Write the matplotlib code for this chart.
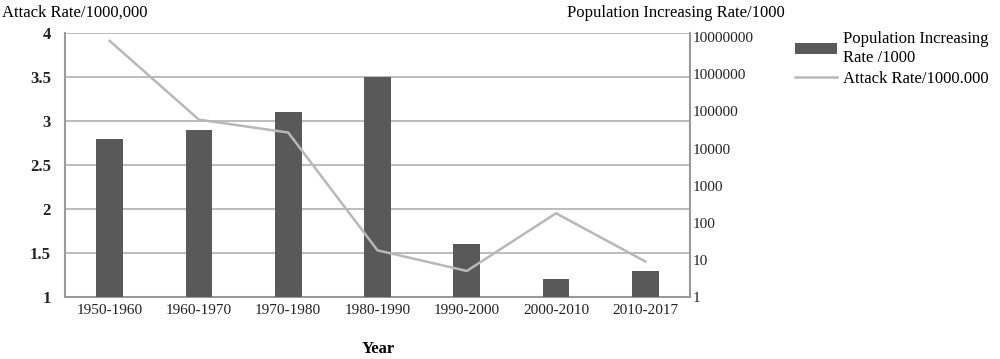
import matplotlib.pyplot as plt
import numpy as np

#%% data

periods = ['1950-1960', '1960-1970', '1970-1980', '1980-1990', '1990-2000', '2000-2010', '2010-2017']
pop_rate = [2.8, 2.9, 3.1, 3.5, 1.6, 1.2, 1.3]
attack_rate = [8000000, 60000, 27000, 18, 5, 180, 9]

#%% plot

plt.rcParams['font.family'] = ['Liberation Serif', 'DejaVu Serif']

fig = plt.figure(figsize=(10, 3.59), dpi=100)
ax = fig.add_axes([0.065, 0.173, 0.625, 0.735])
x = np.arange(len(periods))

ax.bar(x, pop_rate, width=0.3, color='#595959', zorder=3, label='Population Increasing\nRate /1000')
ax.set_ylim(1, 4)
ax.set_xlim(-0.5, len(periods) - 0.5)
ax.set_yticks([1, 1.5, 2, 2.5, 3, 3.5, 4])
ax.set_yticklabels(['1', '1.5', '2', '2.5', '3', '3.5', '4'], fontsize=12, fontweight='bold')
ax.set_xticks(x)
ax.set_xticklabels(periods, fontsize=11)
ax.grid(axis='y', color='#b0b0b0', lw=1.2, zorder=0)
ax.tick_params(length=0, colors='#222222')
ax.tick_params(axis='x', pad=5)
ax.tick_params(axis='y', pad=10)
for s in ['top', 'right']:
    ax.spines[s].set_visible(False)
for s in ['left', 'bottom']:
    ax.spines[s].set_color('#999999')
    ax.spines[s].set_linewidth(1.5)
fig.text(0.378, 0.028, 'Year', fontsize=12, fontweight='bold', ha='center', va='center')

ax2 = ax.twinx()
ax2.plot(x, attack_rate, color='#b8b8b8', lw=1.8, zorder=4, label='Attack Rate/1000.000')
ax2.set_yscale('log')
ax2.set_ylim(1, 1.3e7)
ax2.set_yticks([1, 10, 100, 1000, 10000, 100000, 1000000, 10000000])
ax2.set_yticklabels(['1', '10', '100', '1000', '10000', '100000', '1000000', '10000000'], fontsize=11)
ax2.minorticks_off()
ax2.tick_params(length=0, pad=2, colors='#222222')
for s in ['top', 'left', 'bottom']:
    ax2.spines[s].set_visible(False)
ax2.spines['right'].set_color('#999999')
ax2.spines['right'].set_linewidth(1.5)

h1, l1 = ax.get_legend_handles_labels()
h2, l2 = ax2.get_legend_handles_labels()
fig.legend(h1 + h2, l1 + l2, loc='upper left', bbox_to_anchor=(0.78, 0.955),
           frameon=False, fontsize=12, handlelength=2.5, labelspacing=0.3, handletextpad=0.4)

fig.text(0.002, 0.965, 'Attack Rate/1000,000', fontsize=12, va='center')
fig.text(0.567, 0.965, 'Population Increasing Rate/1000', fontsize=12, va='center')

fig.savefig('out.png', dpi=100)
